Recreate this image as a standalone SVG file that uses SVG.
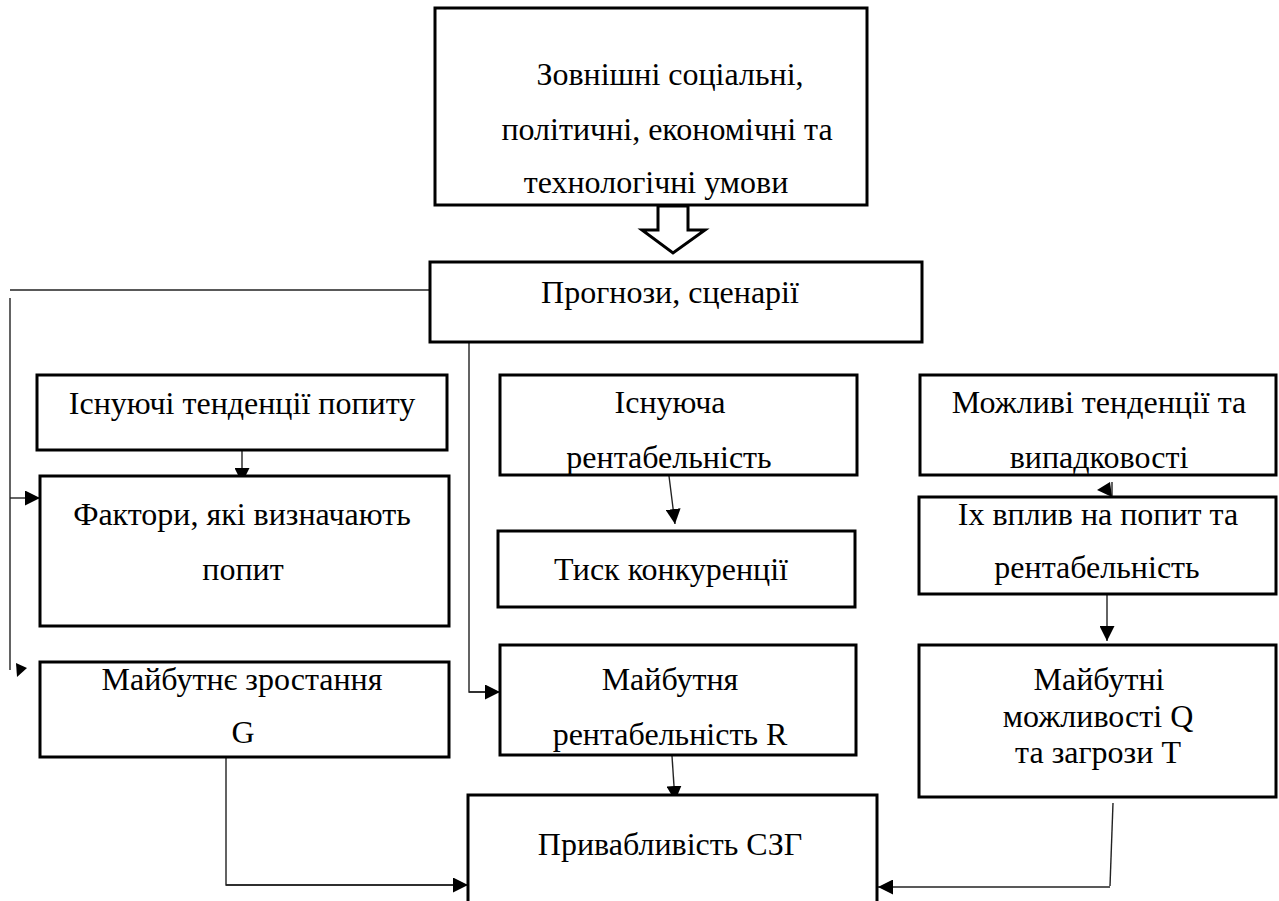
<svg xmlns="http://www.w3.org/2000/svg" width="1279" height="901" viewBox="0 0 1279 901">
<style>
.box{fill:#fff;stroke:#000;stroke-width:3}
.t{font-family:'Liberation Serif','Times New Roman',serif;font-size:32px;fill:#000;text-anchor:middle}
.ln{fill:none;stroke:#222;stroke-width:1.4}
.ar{marker-end:url(#ah)}
</style>
<defs>
<marker id="ah" markerUnits="userSpaceOnUse" markerWidth="15" markerHeight="15" refX="15" refY="7.5" orient="auto">
<path d="M0,0 L15,7.5 L0,15 z" fill="#000"/>
</marker>
</defs>
<rect width="1279" height="901" fill="#fff"/>

<g id="connectors">
<polygon points="658,206 688,206 688,230 705,230 673,253 642,230 658,230" fill="#fff" stroke="#000" stroke-width="3"/>
<line class="ln" x1="10" y1="290" x2="430" y2="290"/>
<line class="ln" x1="10" y1="298" x2="10" y2="670"/>
<line class="ln ar" x1="10" y1="498" x2="40" y2="498"/>
<polygon points="16,663 27,668 17,677" fill="#000"/>
<line class="ln ar" x1="242" y1="451" x2="242" y2="483"/>
<polyline class="ln" points="469,343 469,692 486,692"/>
<line class="ln ar" x1="469" y1="692" x2="500" y2="692"/>
<line class="ln ar" x1="669" y1="476" x2="675" y2="524"/>
<line class="ln ar" x1="672" y1="756" x2="675" y2="801"/>
<polyline class="ln" points="226,758 226,885 460,885"/>
<line class="ln ar" x1="226" y1="885" x2="468" y2="885"/>
<line class="ln" x1="1112" y1="482" x2="1112" y2="497"/>
<polygon points="1097,490 1110,482 1112,497" fill="#000"/>
<line class="ln ar" x1="1107" y1="595" x2="1107" y2="641"/>
<polyline class="ln" points="1113,803 1110,886"/>
<line class="ln ar" x1="1110" y1="887" x2="878" y2="887"/>
</g>

<g id="n-external">
<rect class="box" x="435" y="8" width="432" height="197"/>
<text class="t" x="670" y="85">Зовнішні соціальні,</text>
<text class="t" x="667" y="140">політичні, економічні та</text>
<text class="t" x="656" y="193">технологічні умови</text>
</g>

<g id="n-forecast">
<rect class="box" x="430" y="262" width="492" height="80"/>
<text class="t" x="670" y="303">Прогнози, сценарії</text>
</g>

<g id="n-demand-trends">
<rect class="box" x="37" y="375" width="410" height="75"/>
<text class="t" x="242" y="414">Існуючі тенденції попиту</text>
</g>

<g id="n-factors">
<rect class="box" x="40" y="476" width="409" height="150"/>
<text class="t" x="242" y="525">Фактори, які визначають</text>
<text class="t" x="243" y="580">попит</text>
</g>

<g id="n-growth">
<rect class="box" x="40" y="662" width="409" height="95"/>
<text class="t" x="242" y="690">Майбутнє зростання</text>
<text class="t" x="243" y="743">G</text>
</g>

<g id="n-profit">
<rect class="box" x="500" y="375" width="357" height="100"/>
<text class="t" x="670" y="413">Існуюча</text>
<text class="t" x="669" y="468">рентабельність</text>
</g>

<g id="n-competition">
<rect class="box" x="498" y="531" width="357" height="76"/>
<text class="t" x="671" y="580">Тиск конкуренції</text>
</g>

<g id="n-future-profit">
<rect class="box" x="500" y="645" width="356" height="110"/>
<text class="t" x="670" y="690">Майбутня</text>
<text class="t" x="670" y="745">рентабельність R</text>
</g>

<g id="n-attractiveness">
<rect class="box" x="468" y="795" width="409" height="115"/>
<text class="t" x="670" y="855">Привабливість СЗГ</text>
</g>

<g id="n-possible-trends">
<rect class="box" x="920" y="375" width="356" height="100"/>
<text class="t" x="1099" y="413">Можливі тенденції та</text>
<text class="t" x="1099" y="468">випадковості</text>
</g>

<g id="n-impact">
<rect class="box" x="919" y="497" width="357" height="97"/>
<text class="t" x="1098" y="525">Іх вплив на попит та</text>
<text class="t" x="1097" y="578">рентабельність</text>
</g>

<g id="n-opportunities">
<rect class="box" x="919" y="645" width="357" height="152"/>
<text class="t" x="1099" y="690">Майбутні</text>
<text class="t" x="1098" y="727">можливості Q</text>
<text class="t" x="1098" y="763">та загрози T</text>
</g>
</svg>
